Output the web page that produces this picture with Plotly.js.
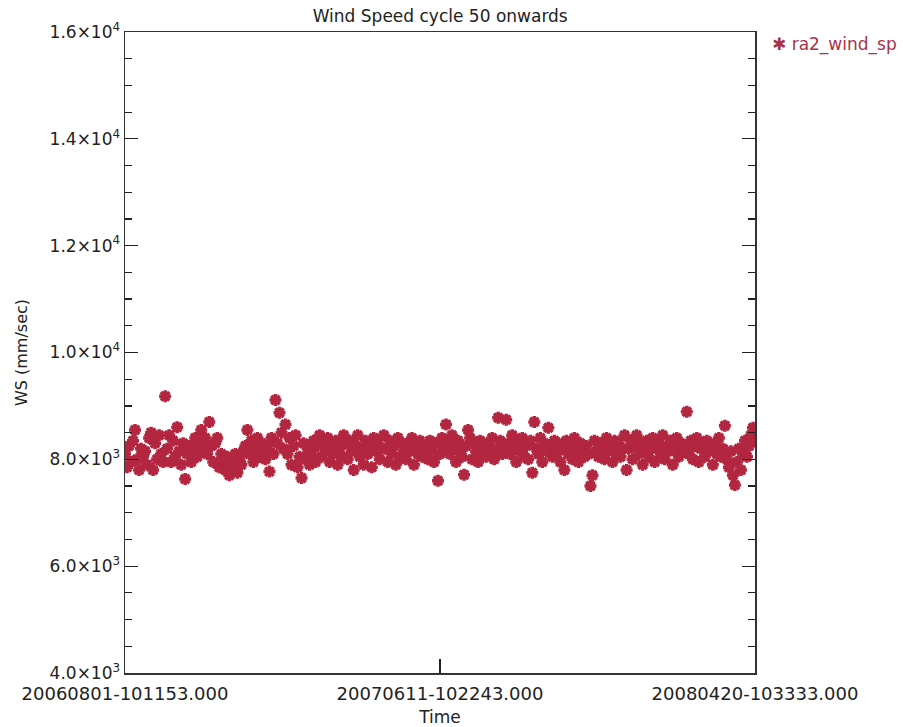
<!DOCTYPE html>
<html>
<head>
<meta charset="utf-8">
<script src="https://cdn.plot.ly/plotly-3.0.1.min.js"></script>
<style>html,body{margin:0;padding:0;background:#fff;}#chart{width:903px;height:727px;}</style>
</head>
<body>
<div id="chart"></div>
<script>
// Start / end of the time axis
const startTime = "2006-08-01 10:11:53";
const midTime = "2007-06-11 10:22:43";
const endTime = "2008-04-20 10:33:33";
const xTickVals = [startTime, midTime, endTime];
const xTickText = ["20060801-101153.000", "20070611-102243.000", "20080420-103333.000"];

// Sample spacing (days) for wind speed samples
const sampleStepDays = 2;

// Wind speed (mm/sec)
const windSpeed = [
  8100, 7850, 8250, 7950, 8350, 8550, 8000, 7800, 8200, 8050,
  8150, 7900, 8400, 8500, 7800, 8300, 8000, 8450, 8100, 7950,
  9180, 8200, 8450, 7950, 8350, 8050, 8600, 8150, 7900, 8300,
  7630, 8100, 8250, 7950, 8150, 8400, 8050, 8300, 8550, 8200,
  8400, 8100, 8700, 8250, 7950, 8300, 8400, 7850, 8100, 8000,
  7800, 8050, 7700, 7950, 7850, 8100, 7750, 8000, 7900, 8150,
  8250, 8550, 8100, 8350, 7950, 8200, 8400, 8050, 8300, 8150,
  8000, 8250, 7770, 8400, 8100, 9110, 8300, 8870, 8500, 8200,
  8650, 8100, 8400, 7900, 8250, 8450, 7850, 8050, 7650, 8300,
  8000, 8200, 7900, 8100, 8350, 7950, 8250, 8450, 8050, 8300,
  8150, 8400, 7950, 8250, 8100, 8350, 7900, 8200, 8050, 8450,
  8300, 8000, 8350, 8150, 7800, 8250, 8450, 8050, 8200, 7900,
  8350, 8100, 8250, 7850, 8400, 8150, 8300, 8000, 8200, 8450,
  8200, 7950, 8350, 8100, 8250, 7900, 8400, 8050, 8300, 8150,
  8000, 8300, 8150, 8400, 7900, 8250, 8100, 8350, 8050, 8200,
  8250, 8000, 8350, 8150, 7950, 8300, 7600, 8100, 8400, 8200,
  8650, 8300, 8100, 8450, 8200, 7950, 8350, 8150, 8050, 7710,
  8250, 8550, 8400, 8000, 8300, 8150, 7950, 8350, 8100, 8250,
  8050, 8300, 8150, 8400, 8000, 8200, 8780, 8350, 8100, 8250,
  8740, 8300, 8100, 8450, 8200, 7950, 8350, 8150, 8400, 8050,
  8250, 8000, 8350, 7750, 8700, 8200, 8100, 8400, 7950, 8300,
  8150, 8590, 8250, 8050, 8350, 8100, 8300, 7950, 8200, 7800,
  8350, 8100, 8250, 8000, 8400, 8150, 7950, 8300, 8200, 8050,
  8250, 8100, 7500, 7700, 8350, 8150, 8050, 8300, 8200, 8000,
  8400, 8150, 8250, 7950, 8350, 8100, 8300, 8050, 8200, 8450,
  7800, 8200, 8350, 8000, 8250, 8450, 8100, 8300, 7900, 8150,
  8350, 8050, 8250, 8400, 7950, 8200, 8300, 8100, 8450, 8000,
  8250, 8150, 8350, 7900, 8200, 8400, 8050, 8300, 8150, 8250,
  8890, 8100, 8350, 8000, 8250, 8400, 7950, 8200, 8300, 8050,
  8350, 8150, 8250, 7900, 8300, 8100, 8400, 8050, 8200, 8630,
  8000, 7850, 8150, 7700, 7520, 7950, 8200, 7800, 8100, 8350,
  8050, 8250, 8450, 8590, 8350
];

// Y axis ticks
const yTickVals = [4000, 6000, 8000, 10000, 12000, 14000, 16000];
const yTickText = ["4.0×10<sup>3</sup>", "6.0×10<sup>3</sup>", "8.0×10<sup>3</sup>",
  "1.0×10<sup>4</sup>", "1.2×10<sup>4</sup>", "1.4×10<sup>4</sup>", "1.6×10<sup>4</sup>"];

const seriesName = "ra2_wind_sp";

const t0 = new Date(startTime.replace(" ", "T") + "Z").getTime();
const times = windSpeed.map((_, i) => {
  const d = new Date(t0 + i * sampleStepDays * 86400000);
  return d.toISOString().replace("T", " ").slice(0, 19);
});

const red = "#b3263f";
const font = "DejaVu Sans, sans-serif";
const ink = "#222";

const trace = {
  type: "scatter", mode: "markers",
  x: times, y: windSpeed, name: seriesName, showlegend: false,
  marker: {symbol: "asterisk-open", size: 10, color: red, line: {color: red, width: 3.5}},
  cliponaxis: true
};

const layout = {
  width: 903, height: 727,
  margin: {l: 125, r: 148, t: 32, b: 54, autoexpand: false},
  paper_bgcolor: "#fff", plot_bgcolor: "#fff",
  font: {family: font, color: ink, size: 16},
  title: {text: "Wind Speed cycle 50 onwards", x: 0.4875, xanchor: "center", y: 0.978, yanchor: "middle",
    font: {family: font, size: 17, color: ink}},
  showlegend: false,
  annotations: [{
    xref: "paper", yref: "paper", x: 1.024, y: 1.0, xanchor: "left", yanchor: "top",
    text: "✱ " + seriesName, showarrow: false,
    font: {family: font, size: 17, color: "#a8324a"}
  }],
  xaxis: {
    type: "date", range: [startTime, endTime], automargin: false,
    tickmode: "array", tickvals: xTickVals, ticktext: xTickText,
    ticks: "inside", ticklen: 14, tickwidth: 1.2, tickcolor: ink,
    ticklabelstandoff: 4,
    showgrid: false, zeroline: false,
    showline: true, linecolor: "#333", linewidth: 1.5, mirror: true,
    tickfont: {family: font, size: 18, color: ink},
    title: {text: "Time", font: {family: font, size: 17, color: ink}, standoff: 8},
    fixedrange: true
  },
  yaxis: {
    range: [4000, 16000], automargin: false,
    tickmode: "array", tickvals: yTickVals, ticktext: yTickText,
    ticks: "inside", ticklen: 13, tickwidth: 1.2, tickcolor: ink,
    minor: {dtick: 500, ticks: "inside", ticklen: 7, tickwidth: 1.2, tickcolor: ink, showgrid: false},
    showgrid: false, zeroline: false,
    showline: true, linecolor: "#333", linewidth: 1.5, mirror: "allticks",
    tickfont: {family: font, size: 17, color: ink},
    title: {text: "WS (mm/sec)", font: {family: font, size: 16, color: ink}, standoff: 18},
    fixedrange: true
  }
};

Plotly.newPlot("chart", [trace], layout, {displayModeBar: false, staticPlot: true});
</script>
</body>
</html>
